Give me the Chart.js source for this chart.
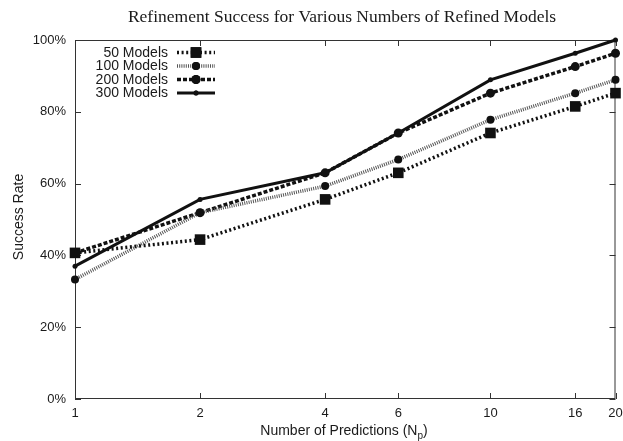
<!DOCTYPE html>
<html>
<head>
<meta charset="utf-8">
<script src="https://cdn.jsdelivr.net/npm/chart.js@4/dist/chart.umd.min.js"></script>
<style>
  html, body { margin: 0; padding: 0; background: #fff; }
  #wrap { width: 623px; height: 441px; }
</style>
</head>
<body>
<div id="wrap"><canvas id="c" width="623" height="441"></canvas></div>
<script>
// Number of predictions (log-scaled x axis)
const predictions = [1, 2, 4, 6, 10, 16, 20];
const xTicks = [1, 2, 4, 6, 10, 16, 20];
const yTicks = [0, 20, 40, 60, 80, 100];

// Success rate (%) for each number of refined models
const models50  = [40.7, 44.4, 55.6, 63.0, 74.1, 81.5, 85.2];
const models100 = [33.3, 51.9, 59.3, 66.7, 77.8, 85.2, 88.9];
const models200 = [40.7, 51.9, 63.0, 74.1, 85.2, 92.6, 96.3];
const models300 = [37.0, 55.6, 63.0, 74.1, 88.9, 96.3, 100.0];

const seriesNames = ['50 Models', '100 Models', '200 Models', '300 Models'];

const SANS = '"Liberation Sans", Arial, sans-serif';
const SERIF = '"Liberation Serif", "Times New Roman", serif';
const INK = '#1a1a1a';

const styles = [
  { color: '#111', width: 3.5, dash: [2, 2.6], point: 'rect', radius: 7.5 },
  { color: '#555', width: 3.5, dash: [1, 1.2], point: 'circle', radius: 4 },
  { color: '#111', width: 3.5, dash: [4, 2], point: 'circle', radius: 4.5 },
  { color: '#111', width: 3, dash: [], point: 'circle', radius: 2.5 }
];

const seriesValues = [models50, models100, models200, models300];

const datasets = seriesValues.map((vals, i) => ({
  label: seriesNames[i],
  data: predictions.map((x, j) => ({ x: x, y: vals[j] })),
  borderColor: styles[i].color,
  backgroundColor: '#111',
  borderWidth: styles[i].width,
  borderDash: styles[i].dash,
  pointStyle: styles[i].point,
  pointRadius: styles[i].radius,
  pointBorderWidth: 0,
  pointBackgroundColor: '#111',
  tension: 0,
  fill: false,
  clip: false
}));

// Frame, inward tick marks, titles and the in-plot legend
const decorations = {
  id: 'decorations',
  beforeDatasetsDraw(chart) {
    const { ctx, chartArea: a, scales } = chart;
    const xs = scales.x, ys = scales.y;
    ctx.save();
    ctx.strokeStyle = '#333';
    ctx.lineWidth = 1;
    ctx.setLineDash([]);
    ctx.strokeRect(a.left + 0.5, a.top + 0.5, a.right - a.left - 1, a.bottom - a.top - 1);

    const tl = 6;
    ctx.beginPath();
    xTicks.forEach(v => {
      const px = Math.round(xs.getPixelForValue(v)) + 0.5;
      ctx.moveTo(px, a.bottom); ctx.lineTo(px, a.bottom - tl);
      ctx.moveTo(px, a.top); ctx.lineTo(px, a.top + tl);
    });
    yTicks.forEach(v => {
      const py = Math.round(ys.getPixelForValue(v)) + 0.5;
      ctx.moveTo(a.left, py); ctx.lineTo(a.left + tl, py);
      ctx.moveTo(a.right, py); ctx.lineTo(a.right - tl, py);
    });
    ctx.stroke();
    ctx.restore();
  },
  afterDraw(chart) {
    const { ctx } = chart;
    ctx.save();
    // chart title
    ctx.fillStyle = INK;
    ctx.font = '17.5px ' + SERIF;
    ctx.textAlign = 'center';
    ctx.textBaseline = 'middle';
    ctx.fillText('Refinement Success for Various Numbers of Refined Models', 342, 17);

    // y axis title
    ctx.font = '14px ' + SANS;
    ctx.save();
    ctx.translate(19, 217);
    ctx.rotate(-Math.PI / 2);
    ctx.fillText('Success Rate', 0, 0);
    ctx.restore();

    // x axis title with subscript
    const main = 'Number of Predictions (N';
    const sub = 'p';
    const close = ')';
    ctx.font = '14px ' + SANS;
    const wMain = ctx.measureText(main).width;
    const wClose = ctx.measureText(close).width;
    ctx.font = '10px ' + SANS;
    const wSub = ctx.measureText(sub).width;
    const total = wMain + wSub + wClose;
    const x0 = 344 - total / 2;
    const yBase = 435;
    ctx.textAlign = 'left';
    ctx.textBaseline = 'alphabetic';
    ctx.font = '14px ' + SANS;
    ctx.fillText(main, x0, yBase);
    ctx.font = '10px ' + SANS;
    ctx.fillText(sub, x0 + wMain, yBase + 4);
    ctx.font = '14px ' + SANS;
    ctx.fillText(close, x0 + wMain + wSub, yBase);

    // legend: text then line sample
    const rowY = [52.5, 66, 79.5, 93];
    chart.data.datasets.forEach((ds, i) => {
      const y = rowY[i];
      ctx.font = '14px ' + SANS;
      ctx.fillStyle = INK;
      ctx.textAlign = 'right';
      ctx.textBaseline = 'middle';
      ctx.fillText(ds.label, 168, y + 0.5);
      ctx.strokeStyle = ds.borderColor;
      ctx.lineWidth = ds.borderWidth;
      ctx.setLineDash(ds.borderDash);
      ctx.beginPath();
      ctx.moveTo(177, y); ctx.lineTo(215, y);
      ctx.stroke();
      ctx.setLineDash([]);
      ctx.fillStyle = '#111';
      Chart.helpers.drawPoint(ctx, { pointStyle: ds.pointStyle, radius: ds.pointRadius, borderWidth: 0 }, 196, y);
      ctx.fill();
    });
    ctx.restore();
  }
};

new Chart(document.getElementById('c'), {
  type: 'line',
  data: { datasets },
  options: {
    responsive: false,
    animation: false,
    layout: { padding: { top: 40, right: 7, left: 0, bottom: 0 } },
    plugins: { legend: { display: false }, title: { display: false }, tooltip: { enabled: false } },
    scales: {
      x: {
        type: 'logarithmic',
        min: 1,
        max: 20,
        afterBuildTicks: s => { s.ticks = xTicks.map(v => ({ value: v })); },
        afterFit: s => { s.height = 42; s.paddingLeft = 0; s.paddingRight = 0; },
        grid: { display: false, drawTicks: false },
        border: { display: false },
        ticks: {
          color: INK,
          font: { family: SANS, size: 13 },
          padding: 7,
          maxRotation: 0,
          autoSkip: false,
          callback: v => String(v)
        }
      },
      y: {
        type: 'linear',
        min: 0,
        max: 100,
        afterBuildTicks: s => { s.ticks = yTicks.map(v => ({ value: v })); },
        afterFit: s => { s.width = 75; s.paddingTop = 0; s.paddingBottom = 0; },
        grid: { display: false, drawTicks: false },
        border: { display: false },
        ticks: {
          color: INK,
          font: { family: SANS, size: 13 },
          padding: 9,
          callback: v => v + '%'
        }
      }
    }
  },
  plugins: [decorations]
});
</script>
</body>
</html>
